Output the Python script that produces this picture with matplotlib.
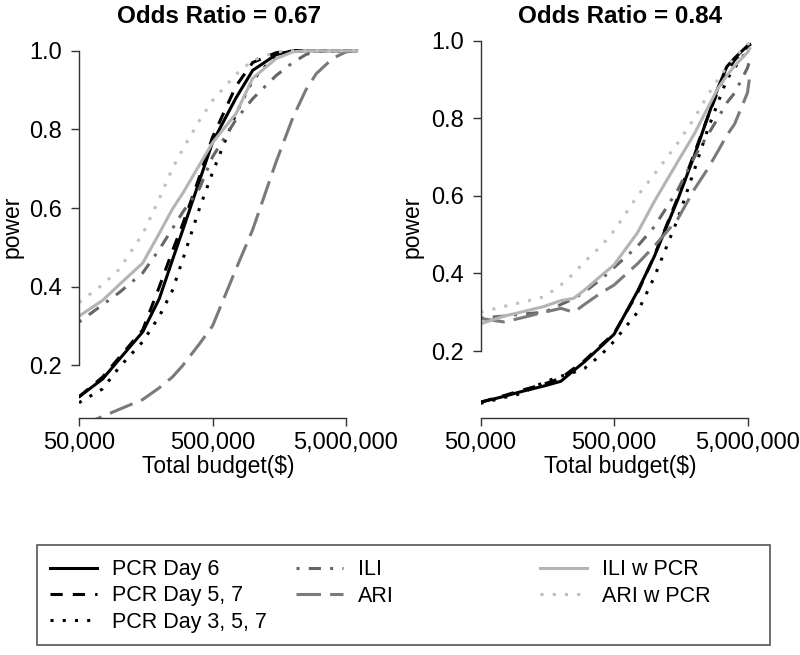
import matplotlib
matplotlib.use('Agg')
import matplotlib.pyplot as plt
from matplotlib.lines import Line2D
from matplotlib.patches import Rectangle
from matplotlib.ticker import NullLocator

plt.rcParams['font.family'] = ['Liberation Sans', 'DejaVu Sans']

# budgets (x) for each panel
budget_left = [50000, 75000, 100000, 150000, 200000, 250000, 300000, 400000, 500000,
               750000, 1000000, 1500000, 2000000, 2500000, 3000000, 3500000, 4000000,
               5000000, 6000000]
budget_right = [50000, 75000, 100000, 150000, 200000, 250000, 300000, 400000, 500000,
                750000, 1000000, 1500000, 2000000, 2500000, 3000000, 3500000, 4000000,
                5000000, 5200000]

# odds ratio = 0.67
pcr6_l = [0.12, 0.165, 0.215, 0.285, 0.37, 0.467, 0.545, 0.67, 0.767, 0.88, 0.95, 0.99,
          1.0, 1.0, 1.0, 1.0, 1.0, 1.0, 1.0]
pcr57_l = [0.12, 0.17, 0.22, 0.29, 0.40, 0.49, 0.56, 0.68, 0.78, 0.91, 0.97, 0.995,
           1.0, 1.0, 1.0, 1.0, 1.0, 1.0, 1.0]
pcr357_l = [0.105, 0.14, 0.195, 0.26, 0.325, 0.39, 0.47, 0.60, 0.69, 0.84, 0.925, 0.99,
            1.0, 1.0, 1.0, 1.0, 1.0, 1.0, 1.0]
ili_l = [0.31, 0.354, 0.385, 0.435, 0.495, 0.547, 0.59, 0.65, 0.73, 0.825, 0.878, 0.937,
         0.97, 0.99, 1.0, 1.0, 1.0, 1.0, 1.0]
ari_l = [0.045, 0.07, 0.088, 0.113, 0.143, 0.17, 0.20, 0.255, 0.30, 0.445, 0.545, 0.718,
         0.83, 0.90, 0.942, 0.963, 0.981, 0.997, 1.0]
iliw_l = [0.325, 0.365, 0.405, 0.46, 0.536, 0.597, 0.638, 0.71, 0.766, 0.84, 0.93, 0.98,
          0.997, 1.0, 1.0, 1.0, 1.0, 1.0, 1.0]
ariw_l = [0.36, 0.405, 0.444, 0.534, 0.624, 0.70, 0.75, 0.823, 0.873, 0.94, 0.975, 0.997,
          1.0, 1.0, 1.0, 1.0, 1.0, 1.0, 1.0]

# odds ratio = 0.84
pcr6_r = [0.068, 0.083, 0.095, 0.11, 0.122, 0.15, 0.172, 0.212, 0.243, 0.354, 0.443, 0.59,
          0.704, 0.80, 0.878, 0.933, 0.955, 0.987, 0.99]
pcr57_r = [0.068, 0.085, 0.098, 0.115, 0.13, 0.155, 0.175, 0.215, 0.245, 0.35, 0.445, 0.595,
           0.71, 0.80, 0.87, 0.92, 0.95, 0.985, 0.99]
pcr357_r = [0.065, 0.08, 0.09, 0.12, 0.135, 0.145, 0.155, 0.19, 0.225, 0.30, 0.39, 0.54,
            0.667, 0.768, 0.84, 0.90, 0.93, 0.975, 0.98]
ili_r = [0.285, 0.29, 0.295, 0.30, 0.32, 0.335, 0.352, 0.385, 0.415, 0.47, 0.52, 0.615,
         0.70, 0.755, 0.80, 0.84, 0.865, 0.93, 0.95]
ari_r = [0.284, 0.275, 0.285, 0.30, 0.31, 0.30, 0.32, 0.35, 0.37, 0.425, 0.47, 0.54,
         0.617, 0.668, 0.715, 0.756, 0.785, 0.866, 0.91]
iliw_r = [0.27, 0.29, 0.30, 0.315, 0.33, 0.336, 0.357, 0.394, 0.422, 0.505, 0.585, 0.688,
          0.76, 0.825, 0.877, 0.91, 0.935, 0.97, 0.98]
ariw_r = [0.30, 0.315, 0.325, 0.34, 0.37, 0.40, 0.43, 0.47, 0.51, 0.60, 0.655, 0.736,
          0.80, 0.858, 0.90, 0.932, 0.958, 0.99, 0.995]

series_names = ['PCR Day 6', 'PCR Day 5, 7', 'PCR Day 3, 5, 7', 'ILI', 'ARI',
                'ILI w PCR', 'ARI w PCR']
left_values = [pcr6_l, pcr57_l, pcr357_l, ili_l, ari_l, iliw_l, ariw_l]
right_values = [pcr6_r, pcr57_r, pcr357_r, ili_r, ari_r, iliw_r, ariw_r]

titles = ['Odds Ratio = 0.67', 'Odds Ratio = 0.84']
xtick_vals = [50000, 500000, 5000000]
xtick_labels = ['50,000', '500,000', '5,000,000']
ytick_vals = [0.2, 0.4, 0.6, 0.8, 1.0]
ytick_labels = ['0.2', '0.4', '0.6', '0.8', '1.0']

styles = {
    'PCR Day 6': dict(color='black'),
    'PCR Day 5, 7': dict(color='black', dashes=(4, 3.3)),
    'PCR Day 3, 5, 7': dict(color='black', dashes=(1, 3)),
    'ILI': dict(color='#666666', dashes=(1, 3, 4, 3)),
    'ARI': dict(color='#7a7a7a', dashes=(8, 3)),
    'ILI w PCR': dict(color='#b4b4b4'),
    'ARI w PCR': dict(color='#c0c0c0', dashes=(1, 3)),
}

W, H = 800, 655
fig = plt.figure(figsize=(W / 100, H / 100), dpi=100)


def px_box(x0, y_top, w, h):
    return [x0 / W, 1 - (y_top + h) / H, w / W, h / H]


axis_bottom = 418
axis_top = 30
ax_w = 280
ax_l = fig.add_axes(px_box(79, axis_top, ax_w, axis_bottom - axis_top))
ax_r = fig.add_axes(px_box(480.5, axis_top, ax_w, axis_bottom - axis_top))

# y limits worked out from where the ticks sit in the picture
ylims = [(1 - (axis_bottom - 50.7) / 393.3, 1 + (50.7 - axis_top) / 393.3),
         (1 - (axis_bottom - 40.7) / 387.9, 1 + (40.7 - axis_top) / 387.9)]
xmax = 10 ** (4.69897 + ax_w / 133.5)

lines = []
for ax, budget, values, title, ylim in zip([ax_l, ax_r], [budget_left, budget_right],
                                           [left_values, right_values], titles, ylims):
    lines = []
    for name, vals in zip(series_names, values):
        ln, = ax.plot(budget, vals, lw=2.2, label=name, **styles[name])
        lines.append(ln)
    ax.set_xscale('log')
    ax.set_xlim(50000, xmax)
    ax.set_ylim(*ylim)
    ax.set_xticks(xtick_vals)
    ax.set_xticklabels(xtick_labels)
    ax.xaxis.set_minor_locator(NullLocator())
    ax.set_yticks(ytick_vals)
    ax.set_yticklabels(ytick_labels)
    for s in ['top', 'right']:
        ax.spines[s].set_visible(False)
    ax.spines['left'].set_bounds(0.2, 1.0)
    ax.spines['bottom'].set_bounds(50000, 5000000)
    for s in ['left', 'bottom']:
        ax.spines[s].set_color('#333333')
        ax.spines[s].set_linewidth(1)
    ax.tick_params(direction='out', length=6, width=1, color='#333333',
                   labelsize=17, pad=4)
    ax.tick_params(axis='y', pad=6)
    ax.set_title(title, fontweight='bold', fontsize=17.5, pad=5)

# axis labels
fig.text(11.7 / W, 1 - 227 / H, 'power', rotation=90, ha='center', va='center', fontsize=16.5)
fig.text(412 / W, 1 - 227 / H, 'power', rotation=90, ha='center', va='center', fontsize=16.5)
fig.text(218.5 / W, 1 - 467 / H, 'Total budget($)', ha='center', va='center', fontsize=16.5)
fig.text(620 / W, 1 - 467 / H, 'Total budget($)', ha='center', va='center', fontsize=16.5)

# legend: three columns in one box
blank = Line2D([], [], color='none')
cols = [([lines[0], lines[1], lines[2]], series_names[0:3], 50),
        ([lines[3], lines[4], blank], [series_names[3], series_names[4], ''], 296),
        ([lines[5], lines[6], blank], [series_names[5], series_names[6], ''], 540)]
for handles, labels, xpos in cols:
    leg = fig.legend(handles, labels, loc='center left',
                     bbox_to_anchor=(xpos / W, 1 - 596 / H), bbox_transform=fig.transFigure,
                     frameon=False, borderpad=0, borderaxespad=0, handlelength=2.2,
                     handletextpad=0.7, labelspacing=0.24, fontsize=15.5)
fig.patches.append(Rectangle((37 / W, 1 - 645 / H), 733 / W, 100 / H,
                             transform=fig.transFigure, fill=False, ec='#555555', lw=1.2))

fig.savefig('out.png', dpi=100)
